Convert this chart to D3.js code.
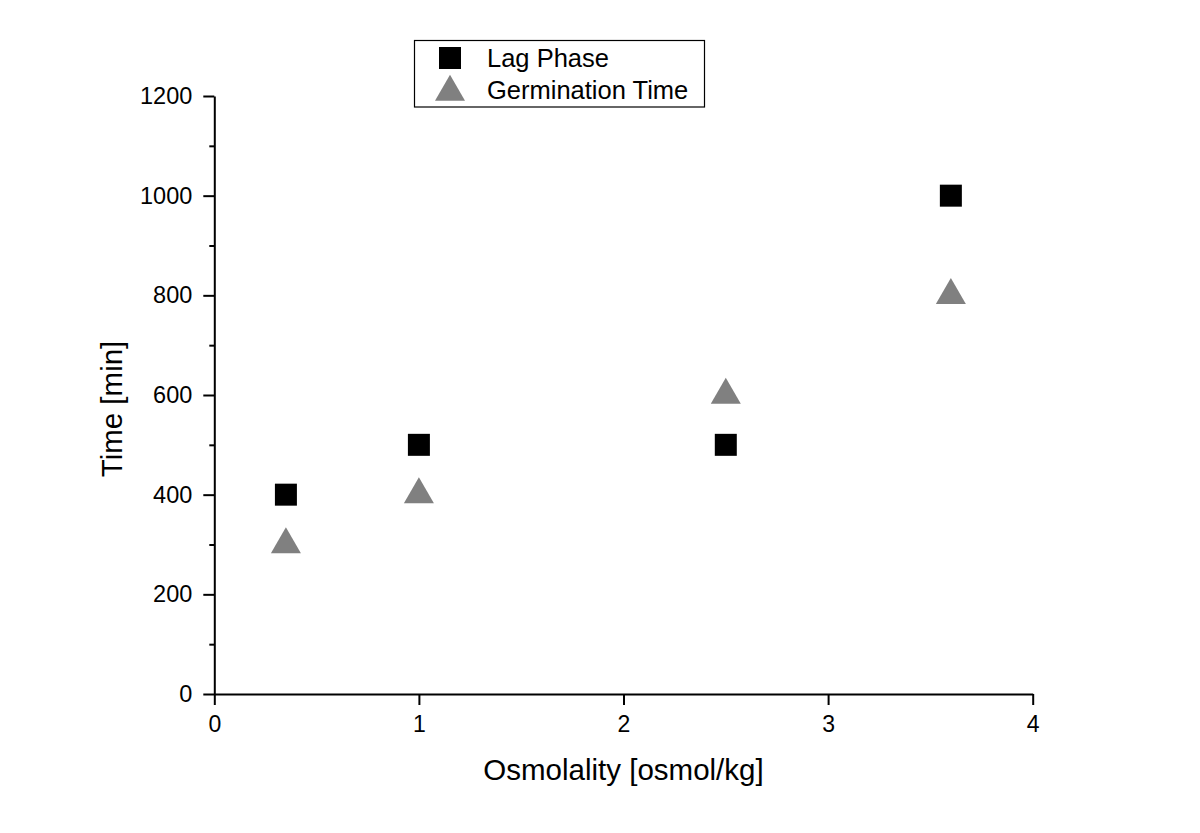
<!DOCTYPE html>
<html>
<head>
<meta charset="utf-8">
<script src="https://cdn.jsdelivr.net/npm/d3@7"></script>
<style>
  html, body { margin: 0; padding: 0; background: #fff; }
  svg { display: block; }
  text { font-family: Arial, "Liberation Sans", sans-serif; fill: #000; }
</style>
</head>
<body>
<svg id="chart" width="1200" height="833"></svg>
<script>
const osmolality = [0.35, 1, 2.5, 3.6];
const lagPhase = [400, 500, 500, 1000];
const germinationTime = [300, 400, 600, 800];
const xTicks = [0, 1, 2, 3, 4];
const yTicks = [0, 200, 400, 600, 800, 1000, 1200];
const yMinorTicks = [100, 300, 500, 700, 900, 1100];
const seriesNames = ["Lag Phase", "Germination Time"];
const xTitle = "Osmolality [osmol/kg]";
const yTitle = "Time [min]";

const svg = d3.select("#chart");
const x = d3.scaleLinear().domain([0, 4]).range([214.3, 1032.7]);
const y = d3.scaleLinear().domain([0, 1200]).range([694, 96]);

// minor y ticks
svg.append("g")
  .attr("transform", `translate(${x(0)},0)`)
  .call(d3.axisLeft(y).tickValues(yMinorTicks).tickSize(5).tickFormat(""))
  .call(g => g.select(".domain").remove())
  .call(g => g.selectAll("line").attr("stroke", "#000").attr("stroke-width", 2));

// y axis
const yAxis = svg.append("g")
  .attr("transform", `translate(${x(0)},0)`)
  .call(d3.axisLeft(y).tickValues(yTicks).tickSize(11).tickPadding(11).tickSizeOuter(0).tickFormat(d3.format("d")));
yAxis.attr("font-size", 23.5).attr("font-family", "Arial, 'Liberation Sans', sans-serif");
yAxis.select(".domain").attr("stroke", "#000").attr("stroke-width", 2);
yAxis.selectAll("line").attr("stroke", "#000").attr("stroke-width", 2);
yAxis.selectAll("text").attr("font-size", 23.5);

// x axis
const xAxis = svg.append("g")
  .attr("transform", `translate(0,${y(0)})`)
  .call(d3.axisBottom(x).tickValues(xTicks).tickSize(11).tickPadding(11).tickSizeOuter(0).tickFormat(d3.format("d")));
xAxis.attr("font-size", 23).attr("font-family", "Arial, 'Liberation Sans', sans-serif");
xAxis.select(".domain").attr("stroke", "#000").attr("stroke-width", 2);
xAxis.selectAll("line").attr("stroke", "#000").attr("stroke-width", 2);
xAxis.selectAll("text").attr("font-size", 23);

// axis titles
svg.append("text")
  .attr("x", (x(0) + x(4)) / 2)
  .attr("y", 780)
  .attr("text-anchor", "middle")
  .attr("font-size", 29.5)
  .text(xTitle);

svg.append("text")
  .attr("transform", `translate(121.5,409) rotate(-90)`)
  .attr("text-anchor", "middle")
  .attr("font-size", 29.5)
  .text(yTitle);

// data
const sq = d3.symbol().type(d3.symbolSquare).size(484);
const tri = d3.symbol().type(d3.symbolTriangle).size(390);

svg.append("g").selectAll("path")
  .data(osmolality.map((v, i) => ({ x: v, y: germinationTime[i] })))
  .join("path")
  .attr("d", tri)
  .attr("fill", "#808080")
  .attr("transform", d => `translate(${x(d.x)},${y(d.y)})`);

svg.append("g").selectAll("path")
  .data(osmolality.map((v, i) => ({ x: v, y: lagPhase[i] })))
  .join("path")
  .attr("d", sq)
  .attr("fill", "#000")
  .attr("transform", d => `translate(${x(d.x)},${y(d.y)})`);

// legend
const lg = svg.append("g");
lg.append("rect")
  .attr("x", 414.5).attr("y", 40.5)
  .attr("width", 290).attr("height", 66.5)
  .attr("fill", "#fff").attr("stroke", "#000").attr("stroke-width", 1.2);
lg.append("path").attr("d", sq).attr("fill", "#000").attr("transform", "translate(450,58)");
lg.append("path").attr("d", tri).attr("fill", "#808080").attr("transform", "translate(450,92)");
lg.append("text").attr("x", 487).attr("y", 66.5).attr("font-size", 25.5).text(seriesNames[0]);
lg.append("text").attr("x", 487).attr("y", 99).attr("font-size", 25.5).text(seriesNames[1]);
</script>
</body>
</html>
